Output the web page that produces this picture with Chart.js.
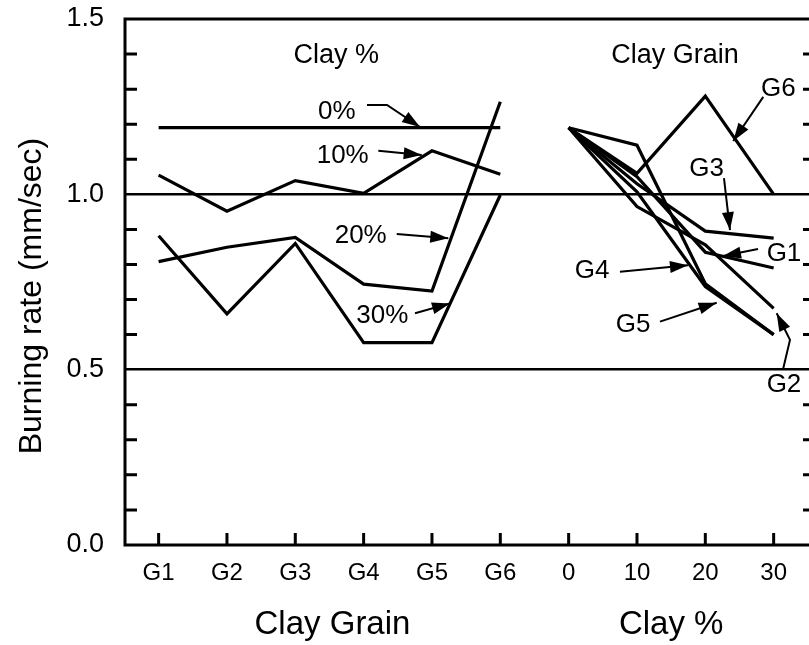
<!DOCTYPE html>
<html><head><meta charset="utf-8">
<script src="https://cdn.jsdelivr.net/npm/chart.js@4.4.1/dist/chart.umd.min.js"></script>
<style>
html,body{margin:0;padding:0;overflow:hidden;background:#fff;width:809px;height:645px}
canvas{display:block}
</style></head>
<body>
<canvas id="c" width="818" height="645" style="width:818px;height:645px"></canvas>
<script>
// ---------- data ----------
const grainLabels = ['G1','G2','G3','G4','G5','G6'];
const clayPercents = [0,10,20,30];
const yLabelValues = [0,0.5,1.0,1.5];
const yMinorTicks = [0.1,0.2,0.3,0.4,0.6,0.7,0.8,0.9,1.1,1.2,1.3,1.4];
const yRefLines = [0.5,1.0];

// Left panel: burning rate vs clay grain (one series per clay %)
const clay0pct  = [1.19,1.19,1.19,1.19,1.19,1.19];
const clay10pct = [1.055,0.952,1.039,1.003,1.124,1.057];
const clay20pct = [0.808,0.849,0.877,0.744,0.724,1.264];
const clay30pct = [0.882,0.659,0.860,0.577,0.577,0.998];

// Right panel: burning rate vs clay % (one series per grain)
const grainG1 = [1.19,1.05,0.835,0.79];
const grainG2 = [1.19,0.965,0.856,0.675];
const grainG3 = [1.19,1.03,0.895,0.875];
const grainG4 = [1.19,1.007,0.737,0.60];
const grainG5 = [1.19,1.14,0.745,0.60];
const grainG6 = [1.19,1.06,1.28,1.0];

// ---------- shared x axis: grains at 1..6, clay % at 7..10 ----------
const grainPos = i => i + 1;
const clayPos = p => 7 + p / 10;
const xTickPositions = grainLabels.map((_, i) => grainPos(i)).concat(clayPercents.map(clayPos));
const xTickLabels = grainLabels.concat(clayPercents.map(String));

const leftSeries = [clay0pct, clay10pct, clay20pct, clay30pct];
const rightSeries = [grainG1, grainG2, grainG3, grainG4, grainG5, grainG6];

const lineStyle = {borderColor:'#000', borderWidth:3.2, pointRadius:0, tension:0, fill:false, borderJoinStyle:'miter'};
const datasets = [];
leftSeries.forEach((s, k) => datasets.push(Object.assign({
  label: clayPercents[k] + '%',
  data: s.map((v, i) => ({x: grainPos(i), y: v}))
}, lineStyle)));
rightSeries.forEach((s, k) => datasets.push(Object.assign({
  label: grainLabels[k],
  data: s.map((v, i) => ({x: clayPos(clayPercents[i]), y: v}))
}, lineStyle)));

// ---------- annotations (data units) ----------
const FONT = "'Liberation Sans', Arial, Helvetica, sans-serif";
const panelTitles = [
  {text:'Clay %', x:3.60, y:1.403},
  {text:'Clay Grain', x:8.556, y:1.403}
];
const callouts = [
  {text:'0%',  tx:3.606, ty:1.240, path:[[4.049,1.255],[4.342,1.255],[4.825,1.192]]},
  {text:'10%', tx:3.694, ty:1.117, path:[[4.215,1.124],[4.850,1.112]]},
  {text:'20%', tx:3.957, ty:0.889, path:[[4.484,0.887],[5.239,0.875]]},
  {text:'30%', tx:4.273, ty:0.661, path:[[4.752,0.661],[5.264,0.689]]},
  {text:'G6', tx:10.068, ty:1.307, path:[[9.848,1.278],[9.409,1.152]]},
  {text:'G3', tx:9.020, ty:1.079, path:[[9.273,1.046],[9.361,0.898]]},
  {text:'G1', tx:10.151, ty:0.836, path:[[9.771,0.844],[9.259,0.824]]},
  {text:'G4', tx:7.342, ty:0.787, path:[[7.751,0.779],[8.746,0.798]]},
  {text:'G5', tx:7.942, ty:0.633, path:[[8.337,0.637],[9.166,0.691]]},
  {text:'G2', tx:10.151, ty:0.462, path:[[10.141,0.504],[10.239,0.585],[10.044,0.661]]}
];

function drawText(ctx, txt, cx, cy, size){
  ctx.font = size + 'px ' + FONT;
  ctx.textAlign = 'center';
  ctx.textBaseline = 'alphabetic';
  ctx.fillText(txt, cx, cy + 0.358 * size);
}

const overlay = {
  id:'overlay',
  afterDraw(chart){
    const {ctx, chartArea:a, scales:{x, y}} = chart;
    ctx.save();
    ctx.strokeStyle = '#000';
    ctx.fillStyle = '#000';
    ctx.lineCap = 'butt';
    // frame
    ctx.lineWidth = 3;
    ctx.strokeRect(a.left, a.top, a.right - a.left, a.bottom - a.top);
    // inward tick marks
    ctx.beginPath();
    yMinorTicks.forEach(v => {
      const py = y.getPixelForValue(v);
      ctx.moveTo(a.left, py); ctx.lineTo(a.left + 12, py);
      ctx.moveTo(a.right, py); ctx.lineTo(a.right - 12, py);
    });
    xTickPositions.forEach(v => {
      const px = x.getPixelForValue(v);
      ctx.moveTo(px, a.bottom); ctx.lineTo(px, a.bottom - 12);
    });
    ctx.stroke();
    // panel titles
    panelTitles.forEach(t => drawText(ctx, t.text, x.getPixelForValue(t.x), y.getPixelForValue(t.y), 27));
    // callouts
    callouts.forEach(c => {
      drawText(ctx, c.text, x.getPixelForValue(c.tx), y.getPixelForValue(c.ty), 26);
      const pts = c.path.map(p => [x.getPixelForValue(p[0]), y.getPixelForValue(p[1])]);
      ctx.lineWidth = 2;
      ctx.beginPath();
      ctx.moveTo(pts[0][0], pts[0][1]);
      for (let i = 1; i < pts.length; i++) ctx.lineTo(pts[i][0], pts[i][1]);
      ctx.stroke();
      const [x1, y1] = pts[pts.length - 2], [x2, y2] = pts[pts.length - 1];
      const ang = Math.atan2(y2 - y1, x2 - x1), L = 18, W = 6;
      ctx.beginPath();
      ctx.moveTo(x2, y2);
      ctx.lineTo(x2 - L * Math.cos(ang) + W * Math.sin(ang), y2 - L * Math.sin(ang) - W * Math.cos(ang));
      ctx.lineTo(x2 - L * Math.cos(ang) - W * Math.sin(ang), y2 - L * Math.sin(ang) + W * Math.cos(ang));
      ctx.closePath();
      ctx.fill();
    });
    // axis titles
    drawText(ctx, 'Clay Grain', x.getPixelForValue((grainPos(0) + grainPos(5)) / 2) + 3, 622, 33);
    drawText(ctx, 'Clay %', x.getPixelForValue((clayPos(0) + clayPos(30)) / 2), 622, 33);
    ctx.save();
    ctx.translate(30, 296);
    ctx.rotate(-Math.PI / 2);
    drawText(ctx, 'Burning rate (mm/sec)', 0, 0, 32);
    ctx.restore();
    ctx.restore();
  }
};

new Chart(document.getElementById('c'), {
  type:'line',
  data:{datasets},
  plugins:[overlay],
  options:{
    responsive:false,
    animation:false,
    devicePixelRatio:1,
    layout:{padding:{top:19, right:3, left:0, bottom:0}},
    plugins:{legend:{display:false}, tooltip:{enabled:false}, title:{display:false}},
    scales:{
      x:{
        type:'linear', min:0.508, max:10.605,
        afterBuildTicks: s => { s.ticks = xTickPositions.map(v => ({value:v})); },
        afterFit: s => { s.height = 100; s.paddingLeft = 0; s.paddingRight = 0; },
        ticks:{autoSkip:false, maxRotation:0, padding:14, color:'#000',
          font:{family:FONT, size:24},
          callback:(v, i) => xTickLabels[i]},
        grid:{display:false, drawTicks:false, tickLength:0},
        border:{display:false}
      },
      y:{
        type:'linear', min:0, max:1.5,
        afterBuildTicks: s => { s.ticks = yLabelValues.map(v => ({value:v})); },
        afterFit: s => { s.width = 125; s.paddingTop = 0; s.paddingBottom = 0; },
        ticks:{padding:21, color:'#000', font:{family:FONT, size:27},
          callback: v => Number(v).toFixed(1)},
        grid:{display:true, drawOnChartArea:true, drawTicks:false, tickLength:0, lineWidth:2.5,
          color: c => yRefLines.includes(c.tick && c.tick.value) ? '#000' : 'rgba(0,0,0,0)'},
        border:{display:false}
      }
    }
  }
});
</script>
</body></html>
